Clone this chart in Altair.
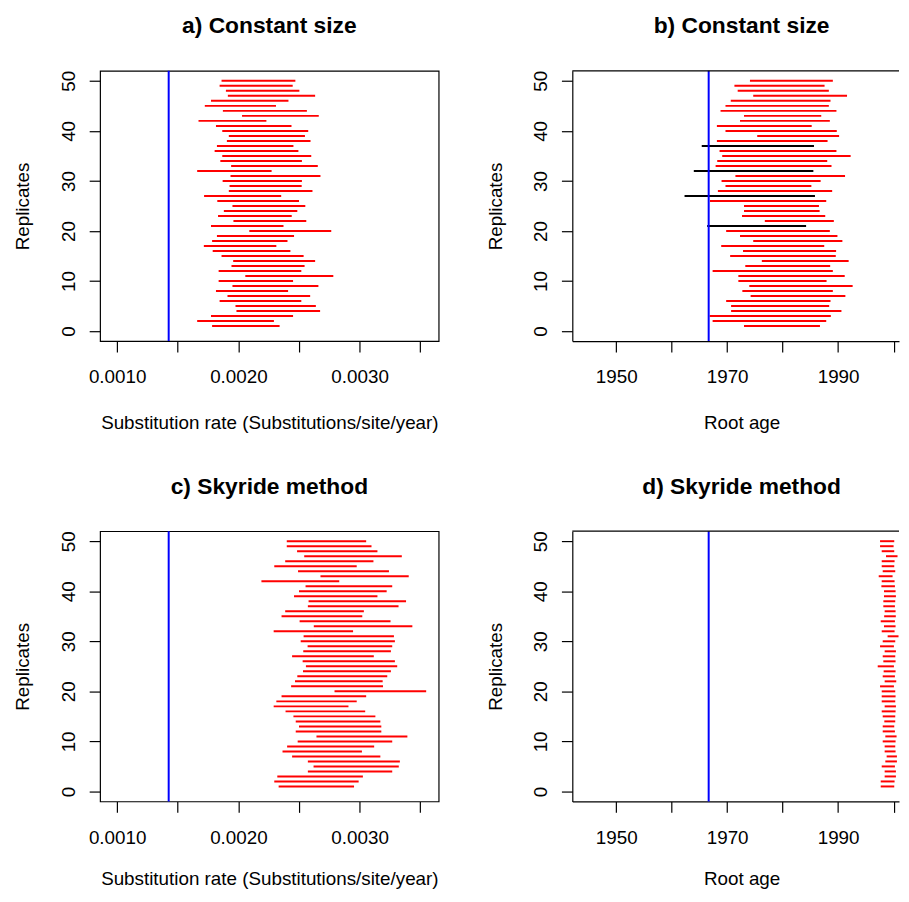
import altair as alt
import pandas as pd

FONT = "Liberation Sans"

reps = list(range(1, 51))

# a) Constant size - substitution rate intervals (replicate 1..50)
rate_const_lo = [0.001783, 0.001660, 0.001774, 0.001984, 0.001976, 0.001845, 0.001910, 0.001815, 0.001951, 0.001837,
                 0.002057, 0.001837, 0.001943, 0.001957, 0.001861, 0.001788, 0.001715, 0.001783, 0.001823, 0.002090,
                 0.001774, 0.001959, 0.001832, 0.001880, 0.001951, 0.001826, 0.001717, 0.001921, 0.001927, 0.001870,
                 0.001935, 0.001660, 0.001940, 0.001851, 0.001867, 0.001804, 0.001823, 0.001905, 0.001921, 0.001867,
                 0.001815, 0.001671, 0.002030, 0.001872, 0.001723, 0.001774, 0.001913, 0.001897, 0.001845, 0.001861]
rate_const_hi = [0.002340, 0.002293, 0.002451, 0.002674, 0.002639, 0.002519, 0.002592, 0.002410, 0.002660, 0.002451,
                 0.002783, 0.002519, 0.002546, 0.002633, 0.002538, 0.002429, 0.002313, 0.002405, 0.002459, 0.002766,
                 0.002372, 0.002560, 0.002440, 0.002486, 0.002552, 0.002500, 0.002353, 0.002611, 0.002522, 0.002524,
                 0.002677, 0.002274, 0.002655, 0.002524, 0.002601, 0.002495, 0.002454, 0.002595, 0.002549, 0.002576,
                 0.002438, 0.002231, 0.002663, 0.002565, 0.002310, 0.002413, 0.002633, 0.002503, 0.002448, 0.002470]

# b) Constant size - root age intervals
age_const_lo = [1973.04, 1967.38, 1966.85, 1970.71, 1970.71, 1969.82, 1974.23, 1972.74, 1973.99, 1972.02,
                1972.02, 1967.38, 1973.27, 1976.25, 1970.54, 1972.86, 1968.93, 1974.70, 1972.32, 1969.82,
                1966.40, 1976.79, 1972.68, 1973.04, 1973.04, 1966.90, 1962.32, 1968.33, 1969.70, 1968.99,
                1971.49, 1963.99, 1967.92, 1968.21, 1969.11, 1968.63, 1965.42, 1968.15, 1975.42, 1969.70,
                1968.15, 1972.32, 1973.04, 1968.81, 1969.70, 1970.65, 1974.70, 1971.90, 1971.31, 1974.11]
age_const_hi = [1986.73, 1987.86, 1988.69, 1990.60, 1988.39, 1988.63, 1991.31, 1989.05, 1992.62, 1987.92,
                1991.19, 1989.05, 1988.57, 1991.90, 1989.58, 1989.64, 1987.50, 1990.77, 1989.88, 1988.51,
                1984.23, 1989.23, 1987.68, 1986.67, 1986.55, 1987.86, 1985.83, 1988.93, 1985.18, 1986.85,
                1991.25, 1985.54, 1988.81, 1988.04, 1992.26, 1989.70, 1985.65, 1988.10, 1990.18, 1989.76,
                1985.24, 1988.51, 1986.96, 1989.70, 1988.33, 1988.63, 1991.61, 1988.33, 1987.56, 1989.05]

# c) Skyride method - substitution rate intervals
rate_sky_lo = [0.002332, 0.002296, 0.002321, 0.002573, 0.002620, 0.002573, 0.002443, 0.002364, 0.002402, 0.002489,
               0.002644, 0.002473, 0.002500, 0.002473, 0.002454, 0.002389, 0.002291, 0.002313, 0.002356, 0.002793,
               0.002435, 0.002467, 0.002486, 0.002533, 0.002557, 0.002530, 0.002443, 0.002535, 0.002571, 0.002514,
               0.002538, 0.002291, 0.002622, 0.002505, 0.002356, 0.002386, 0.002573, 0.002579, 0.002459, 0.002500,
               0.002554, 0.002190, 0.002677, 0.002492, 0.002296, 0.002386, 0.002543, 0.002484, 0.002399, 0.002399]
rate_sky_hi = [0.002954, 0.002992, 0.003027, 0.003269, 0.003323, 0.003332, 0.003171, 0.003019, 0.003120, 0.003269,
               0.003394, 0.003179, 0.003179, 0.003171, 0.003130, 0.003046, 0.002908, 0.002976, 0.003054, 0.003549,
               0.003193, 0.003190, 0.003228, 0.003258, 0.003310, 0.003291, 0.003117, 0.003258, 0.003269, 0.003291,
               0.003283, 0.002946, 0.003435, 0.003255, 0.003022, 0.003035, 0.003321, 0.003383, 0.003147, 0.003223,
               0.003269, 0.002832, 0.003405, 0.003242, 0.002976, 0.003114, 0.003348, 0.003147, 0.003098, 0.003054]

# d) Skyride method - root age intervals
age_sky_lo = [1997.68, 1997.68, 1998.39, 1998.39, 1997.86, 1998.51, 1998.75, 1998.39, 1998.39, 1998.04,
              1998.51, 1998.04, 1998.04, 1998.33, 1998.04, 1997.86, 1998.39, 1997.86, 1997.86, 1997.86,
              1997.56, 1998.39, 1998.04, 1998.21, 1997.14, 1998.15, 1998.04, 1998.39, 1997.56, 1998.04,
              1998.93, 1997.86, 1998.27, 1997.68, 1998.30, 1998.39, 1998.15, 1998.15, 1998.27, 1998.27,
              1997.80, 1997.86, 1997.32, 1998.04, 1997.86, 1997.86, 1998.63, 1997.86, 1997.56, 1997.56]
age_sky_hi = [2000.12, 2000.18, 2000.42, 2000.42, 2000.24, 2000.60, 2000.60, 2000.36, 2000.30, 2000.36,
              2000.54, 2000.24, 2000.12, 2000.30, 2000.30, 2000.36, 2000.42, 2000.30, 2000.36, 2000.30,
              2000.06, 2000.48, 2000.24, 2000.36, 2000.06, 2000.36, 2000.30, 2000.42, 2000.06, 2000.30,
              2000.89, 2000.18, 2000.36, 2000.24, 2000.40, 2000.36, 2000.24, 2000.30, 2000.42, 2000.36,
              2000.24, 2000.18, 1999.82, 2000.30, 2000.12, 2000.18, 2000.71, 2000.12, 2000.00, 2000.12]

true_rate = 0.001425
true_age = 1966.67

rate_ticks = [0.0010, 0.0015, 0.0020, 0.0025, 0.0030, 0.0035]
age_ticks = [1950, 1960, 1970, 1980, 1990, 2000]
rep_ticks = [0, 10, 20, 30, 40, 50]

rate_domain = [0.000859, 0.003652]
age_domain = [1942.09, 2000.98]
rep_domain = [-2, 52]

W_FULL = 342
W_RIGHT = 330
H = 273


def panel(lo, hi, truth, title, xtitle, xdomain, ticks, fmt, lab_expr, width, boxed, title_y):
    df = pd.DataFrame({"rep": reps, "lo": lo, "hi": hi})
    df["status"] = ["inside" if a <= truth <= b else "outside" for a, b in zip(lo, hi)]
    tdf = pd.DataFrame({"lo": [truth]})
    xs = alt.Scale(domain=xdomain, nice=False, zero=False)
    ys = alt.Scale(domain=rep_domain, nice=False, zero=False)
    xaxis = alt.Axis(
        values=ticks, format=fmt, labelExpr=lab_expr, title=xtitle,
        grid=False, domain=not boxed, domainColor="black", domainWidth=1.2,
        ticks=True, tickSize=11, tickColor="black", tickWidth=1.2,
        labelFont=FONT, labelFontSize=19, labelColor="black", labelPadding=31,
        labelBaseline="alphabetic", labelAlign="center", labelFlush=False, labelOverlap=False,
        titleFont=FONT, titleFontSize=19, titleFontWeight="normal", titleColor="black",
        titleX=171, titleY=title_y, titleBaseline="alphabetic", titleAlign="center",
    )
    yaxis = alt.Axis(
        values=rep_ticks, format="d", title="Replicates",
        grid=False, domain=not boxed, domainColor="black", domainWidth=1.2,
        ticks=True, tickSize=11, tickColor="black", tickWidth=1.2,
        labelFont=FONT, labelFontSize=19, labelColor="black", labelPadding=15,
        labelAngle=270, labelAlign="center", labelBaseline="alphabetic",
        labelFlush=False, labelOverlap=False,
        titleFont=FONT, titleFontSize=19, titleFontWeight="normal", titleColor="black",
        titleAngle=270, titleX=-72, titleY=136.5, titleBaseline="alphabetic", titleAlign="center",
    )
    segs = alt.Chart(df).mark_rule(strokeWidth=2).encode(
        x=alt.X("lo:Q", scale=xs, axis=xaxis),
        x2="hi:Q",
        y=alt.Y("rep:Q", scale=ys, axis=yaxis),
        color=alt.Color("status:N", scale=alt.Scale(domain=["inside", "outside"], range=["black", "#FF0000"]),
                        legend=None),
    )
    tline = alt.Chart(tdf).mark_rule(color="#0000FF", strokeWidth=2).encode(
        x=alt.X("lo:Q", scale=xs, axis=xaxis)
    )
    layers = [segs, tline]
    if not boxed:
        frame = alt.Chart(tdf).mark_rule(color="black", strokeWidth=1.2).encode(
            x=alt.value(0), x2=alt.value(width), y=alt.value(0)
        )
        layers.append(frame)
    ttl = alt.TitleParams(
        text=title, font=FONT, fontSize=23, fontWeight="bold", color="black",
        anchor="middle", frame="group", offset=14, baseline="alphabetic",
        dx=(W_FULL - width) / 2,
    )
    view = alt.ViewBackground(stroke="black" if boxed else "transparent", strokeWidth=1.2)
    return alt.layer(*layers).properties(width=width, height=H, title=ttl, view=view)


rate_expr = "round(datum.value * 10000) % 10 == 0 ? datum.label : ''"
age_expr = "datum.value % 20 == 10 ? datum.label : ''"
rate_title = "Substitution rate (Substitutions/site/year)"

pa = panel(rate_const_lo, rate_const_hi, true_rate, "a) Constant size", rate_title,
           rate_domain, rate_ticks, ".4f", rate_expr, W_FULL, True, 88)
pb = panel(age_const_lo, age_const_hi, true_age, "b) Constant size", "Root age",
           age_domain, age_ticks, "d", age_expr, W_RIGHT, False, 88)
pc = panel(rate_sky_lo, rate_sky_hi, true_rate, "c) Skyride method", rate_title,
           rate_domain, rate_ticks, ".4f", rate_expr, W_FULL, True, 84)
pd_ = panel(age_sky_lo, age_sky_hi, true_age, "d) Skyride method", "Root age",
            age_domain, age_ticks, "d", age_expr, W_RIGHT, False, 84)

chart = alt.concat(pa, pb, pc, pd_, columns=2, spacing={"row": 192, "column": 135}, bounds="flush").properties(
    padding={"left": 5, "top": 2, "right": 0, "bottom": 0},
    background="white",
).configure_view(stroke="black", strokeWidth=1.2)

chart.save("out.html", embed_options={"renderer": "svg", "actions": False})
